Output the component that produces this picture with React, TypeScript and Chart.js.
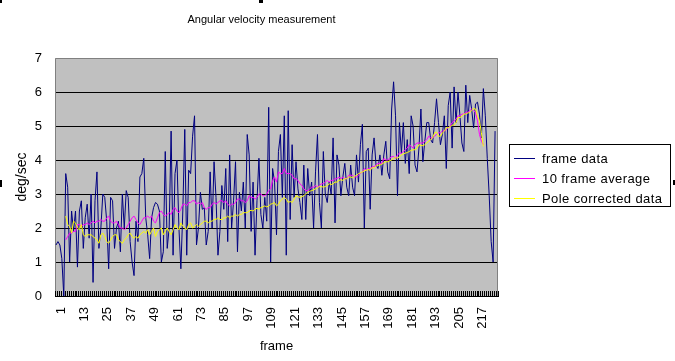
import React, { useEffect, useRef } from "react";
import { Chart, registerables } from "chart.js";

Chart.register(...registerables);

const TITLE = "Angular velocity measurement";
const X_TITLE = "frame";
const Y_TITLE = "deg/sec";
const FRAME_COUNT = 227;
const FRAMES = Array.from({ length: FRAME_COUNT }, (_, i) => String(i + 1));
const X_TICK_LABELS = ["1", "13", "25", "37", "49", "61", "73", "85", "97", "109", "121", "133", "145", "157", "169", "181", "193", "205", "217"];
const Y_MIN = 0;
const Y_MAX = 7;
const Y_STEP = 1;
const SERIES_NAMES = ["frame data", "10 frame average", "Pole corrected data"];
const SERIES_COLORS = ["#000080", "#ff00ff", "#ffff00"];

const FRAME_DATA = [
  1.5, 1.6, 1.5, 1.1, 0.0, 3.6, 3.2, 1.0, 2.5, 1.9,
  2.5, 0.85, 2.5, 2.8, 1.4, 2.3, 2.7, 1.7, 3.0, 0.4,
  2.8, 3.65, 1.4, 2.0, 3.0, 2.9, 2.2, 0.8, 2.9, 2.8,
  1.4, 2.0, 2.2, 1.3, 3.0, 2.0, 3.1, 2.9, 1.6, 1.0,
  0.6, 2.2, 1.6, 3.5, 3.6, 4.05, 2.3, 1.8, 1.1, 2.3,
  2.6, 2.75, 2.7, 2.5, 1.0, 1.3, 4.25, 1.4, 2.0, 4.85,
  1.2, 3.6, 4.0, 2.0, 0.8, 2.5, 4.9, 1.2, 3.7, 3.6,
  4.7, 5.3, 1.5, 2.0, 3.05, 2.55, 2.6, 1.5, 1.9, 3.65,
  2.0, 3.95, 2.9, 1.2, 1.9, 3.25, 2.55, 3.75, 1.6, 4.15,
  2.0, 2.8, 3.95, 1.3, 3.05, 2.5, 3.35, 2.0, 4.75, 4.15,
  1.9, 3.35, 1.2, 2.8, 4.05, 2.4, 2.0, 2.9, 2.2, 5.55,
  1.0, 3.75, 3.35, 1.8, 4.25, 4.75, 2.9, 5.3, 1.2, 5.45,
  2.25, 4.45, 2.9, 3.95, 3.15, 2.75, 2.25, 3.85, 2.25, 3.75,
  2.95, 3.35, 2.0, 3.65, 4.75, 2.75, 2.0, 4.25, 3.0, 2.75,
  3.35, 3.0, 4.65, 2.15, 4.15, 3.85, 2.95, 3.5, 3.9, 3.2,
  2.95, 3.85, 3.2, 2.95, 4.15, 3.35, 4.45, 5.05, 2.0, 4.25,
  4.35, 2.55, 4.15, 4.65, 3.85, 3.75, 4.15, 3.55, 4.15, 4.55,
  3.65, 3.45, 5.5, 6.3, 5.3, 2.95, 5.1, 4.2, 5.1, 3.9,
  4.6, 3.6, 5.3, 5.0, 3.85, 3.65, 4.35, 5.5, 3.95, 4.55,
  5.1, 5.1, 4.6, 4.5, 5.1, 5.8, 5.1, 4.45, 4.75, 5.3,
  3.75, 5.6, 6.0, 4.35, 6.15, 5.1, 6.0, 5.3, 4.5, 4.25,
  6.2, 5.1, 5.9, 5.5, 4.95, 5.65, 5.7, 5.35, 4.65, 6.1,
  5.3, 4.05, 2.95, 1.6, 1.0, 4.85,
];

const AVERAGE_START_FRAME = 6;

const TEN_FRAME_AVERAGE = [
  1.65, 1.75, 1.85, 1.85, 1.9, 1.9, 2.1, 2.1, 2.05, 2.1,
  2.1, 2.15, 2.1, 2.15, 2.2, 2.15, 2.2, 2.2, 2.25, 2.2,
  2.2, 2.3, 2.35, 2.2, 2.15, 2.15, 2.2, 2.1, 2.0, 2.0,
  1.95, 2.0, 2.1, 2.2, 2.3, 2.35, 2.25, 2.15, 2.1, 2.2,
  2.3, 2.3, 2.35, 2.3, 2.35, 2.2, 2.15, 2.3, 2.45, 2.5,
  2.4, 2.35, 2.4, 2.45, 2.4, 2.55, 2.6, 2.5, 2.45, 2.55,
  2.7, 2.7, 2.65, 2.75, 2.75, 2.8, 2.8, 2.7, 2.75, 2.7,
  2.75, 2.6, 2.55, 2.6, 2.6, 2.7, 2.75, 2.7, 2.75, 2.8,
  2.8, 2.75, 2.8, 2.7, 2.65, 2.7, 2.7, 2.75, 2.85, 2.85,
  2.8, 2.8, 2.75, 2.8, 2.95, 2.9, 2.9, 2.85, 2.9, 3.0,
  3.0, 2.95, 2.95, 3.0, 3.1, 3.15, 3.4, 3.5, 3.35, 3.65,
  3.6, 3.6, 3.75, 3.6, 3.6, 3.6, 3.55, 3.45, 3.45, 3.4,
  3.3, 3.25, 3.15, 3.1, 3.1, 3.15, 3.2, 3.2, 3.25, 3.2,
  3.25, 3.3, 3.3, 3.35, 3.4, 3.35, 3.4, 3.4, 3.45, 3.45,
  3.5, 3.45, 3.5, 3.45, 3.45, 3.55, 3.55, 3.55, 3.5, 3.5,
  3.55, 3.6, 3.65, 3.75, 3.7, 3.75, 3.75, 3.8, 3.8, 3.85,
  3.9, 3.9, 3.9, 4.05, 4.0, 4.0, 4.05, 4.1, 4.1, 4.05,
  4.15, 4.2, 4.2, 4.25, 4.3, 4.35, 4.45, 4.4, 4.35, 4.45,
  4.5, 4.5, 4.5, 4.5, 4.55, 4.6, 4.7, 4.65, 4.65, 4.7,
  4.75, 4.8, 4.8, 4.85, 4.85, 4.9, 4.95, 5.0, 5.1, 5.15,
  5.2, 5.3, 5.3, 5.35, 5.35, 5.4, 5.4, 5.45, 5.5, 5.45,
  5.4, 5.15, 4.75, 4.55, 4.45,
];

const POLE_CORRECTED = [
  2.35, 2.1, 2.05, 1.85, 2.2, 2.15, 2.0, 1.95, 2.1, 1.8,
  1.75, 1.8, 1.8, 1.8, 1.75, 1.7, 1.65, 1.55, 1.8, 1.85,
  1.75, 1.6, 1.55, 1.65, 1.75, 1.8, 1.8, 1.65, 1.6, 1.55,
  1.65, 1.7, 1.8, 1.85, 1.75, 1.7, 1.75, 1.7, 1.8, 1.85,
  1.9, 1.85, 1.95, 1.8, 1.9, 2.0, 1.75, 1.9, 1.95, 2.0,
  1.8, 1.9, 2.0, 1.9, 1.8, 1.95, 2.1, 2.0, 1.95, 2.15,
  2.05, 2.0, 1.95, 2.1, 2.15, 2.0, 2.05, 2.1, 2.05, 2.1,
  2.15, 2.2, 2.2, 2.15, 2.2, 2.2, 2.25, 2.25, 2.3, 2.25,
  2.25, 2.3, 2.3, 2.35, 2.3, 2.35, 2.35, 2.4, 2.35, 2.4,
  2.4, 2.45, 2.45, 2.45, 2.5, 2.52, 2.5, 2.55, 2.58, 2.55,
  2.6, 2.62, 2.65, 2.62, 2.65, 2.7, 2.72, 2.75, 2.65, 2.7,
  2.8, 2.85, 2.9, 2.85, 2.75, 2.78, 2.75, 2.85, 2.95, 2.92,
  2.9, 2.92, 2.95, 3.0, 3.05, 3.08, 3.1, 3.12, 3.15, 3.18,
  3.22, 3.22, 3.2, 3.22, 3.25, 3.3, 3.28, 3.3, 3.35, 3.35,
  3.4, 3.42, 3.4, 3.45, 3.45, 3.5, 3.5, 3.48, 3.52, 3.55,
  3.6, 3.62, 3.65, 3.68, 3.7, 3.72, 3.7, 3.78, 3.76, 3.82,
  3.85, 3.85, 3.88, 3.92, 3.95, 3.95, 3.98, 4.0, 4.05, 4.07,
  4.05, 4.1, 4.15, 4.18, 4.2, 4.22, 4.25, 4.28, 4.3, 4.3,
  4.35, 4.45, 4.43, 4.42, 4.45, 4.5, 4.55, 4.6, 4.65, 4.8,
  4.82, 4.7, 4.7, 4.8, 4.85, 4.95, 4.95, 4.98, 5.02, 5.03,
  5.1, 5.25, 5.25, 5.28, 5.35, 5.35, 5.38, 5.4, 5.45, 5.52,
  5.5, 5.3, 5.15, 4.8, 4.4,
];

const FONT = "'Liberation Sans', Arial, sans-serif";

function alignToFrames(startFrame: number, values: number[]) {
  return FRAMES.map((_, i) => {
    const k = i - (startFrame - 1);
    return k >= 0 && k < values.length ? values[k] : null;
  });
}

const excelPlotPlugin = {
  id: "excelPlot",
  beforeDraw(chart: any) {
    const { ctx, chartArea: a } = chart;
    ctx.save();
    ctx.fillStyle = "#c0c0c0";
    ctx.fillRect(a.left, a.top, a.right - a.left, a.bottom - a.top);
    ctx.restore();
  },
  beforeDatasetsDraw(chart: any) {
    const { ctx, chartArea: a, scales } = chart;
    ctx.save();
    ctx.strokeStyle = "#808080";
    ctx.lineWidth = 1;
    ctx.beginPath();
    ctx.moveTo(a.left + 0.5, a.bottom);
    ctx.lineTo(a.left + 0.5, a.top + 0.5);
    ctx.lineTo(a.right - 0.5, a.top + 0.5);
    ctx.lineTo(a.right - 0.5, a.bottom);
    ctx.stroke();
    // category tick comb along the bottom
    const xs = scales.x;
    ctx.strokeStyle = "#000000";
    ctx.beginPath();
    for (let i = 0; i <= FRAME_COUNT; i++) {
      const px = Math.round(xs.getPixelForValue(i - 0.5)) + 0.5;
      ctx.moveTo(px, a.bottom - 5);
      ctx.lineTo(px, a.bottom);
    }
    ctx.stroke();
    ctx.restore();
  },
  afterDraw(chart: any) {
    const { ctx } = chart;
    ctx.save();
    // title
    ctx.fillStyle = "#000";
    ctx.font = `11px ${FONT}`;
    ctx.textAlign = "center";
    ctx.textBaseline = "alphabetic";
    ctx.fillText(TITLE, 261.5, 23);
    // legend
    ctx.fillStyle = "#fff";
    ctx.fillRect(509.5, 144.5, 161, 62);
    ctx.strokeStyle = "#000";
    ctx.lineWidth = 1;
    ctx.strokeRect(509.5, 144.5, 161, 62);
    ctx.font = `13px ${FONT}`;
    ctx.textAlign = "left";
    try { (ctx as any).letterSpacing = "0.4px"; } catch (e) {}
    SERIES_NAMES.forEach((name, i) => {
      const y = 158.5 + i * 20;
      ctx.strokeStyle = SERIES_COLORS[i];
      ctx.beginPath();
      ctx.moveTo(514, y);
      ctx.lineTo(535, y);
      ctx.stroke();
      ctx.fillStyle = "#000";
      ctx.fillText(name, 542, 163 + i * 20);
    });
    try { (ctx as any).letterSpacing = "0px"; } catch (e) {}
    // selection handles
    ctx.fillStyle = "#000";
    ctx.fillRect(0, 0, 2, 3);
    ctx.fillRect(259, 0, 4, 3);
    ctx.fillRect(0, 180, 2, 7);
    ctx.fillRect(673, 180, 2, 5);
    ctx.restore();
  },
};

export default function App() {
  const canvasRef = useRef<HTMLCanvasElement>(null);

  useEffect(() => {
    const canvas = canvasRef.current;
    if (!canvas) return;
    const chart = new Chart(canvas, {
      type: "line",
      data: {
        labels: FRAMES,
        datasets: [
          {
            label: SERIES_NAMES[0],
            data: FRAME_DATA,
            borderColor: SERIES_COLORS[0],
            backgroundColor: SERIES_COLORS[0],
            borderWidth: 1,
            pointRadius: 0,
            order: 3,
          },
          {
            label: SERIES_NAMES[1],
            data: alignToFrames(AVERAGE_START_FRAME, TEN_FRAME_AVERAGE),
            borderColor: SERIES_COLORS[1],
            backgroundColor: SERIES_COLORS[1],
            borderWidth: 1,
            pointRadius: 0,
            order: 2,
          },
          {
            label: SERIES_NAMES[2],
            data: alignToFrames(AVERAGE_START_FRAME, POLE_CORRECTED),
            borderColor: SERIES_COLORS[2],
            backgroundColor: SERIES_COLORS[2],
            borderWidth: 1,
            pointRadius: 0,
            order: 1,
          },
        ],
      },
      options: {
        responsive: false,
        animation: false,
        events: [],
        layout: { padding: { top: 58, right: 177, bottom: 0, left: 0 } },
        plugins: {
          legend: { display: false },
          title: { display: false },
          tooltip: { enabled: false },
        },
        elements: { line: { tension: 0 }, point: { radius: 0 } },
        scales: {
          x: {
            type: "category",
            offset: true,
            grid: { display: false, drawTicks: false },
            border: { display: true, color: "#000", width: 1 },
            ticks: {
              autoSkip: false,
              maxRotation: 90,
              minRotation: 90,
              padding: 11,
              labelOffset: 5,
              color: "#000",
              font: { family: FONT, size: 13 },
              callback: (_v: any, index: number) =>
                X_TICK_LABELS.includes(FRAMES[index]) ? FRAMES[index] : "",
            },
            title: {
              display: true,
              text: X_TITLE,
              color: "#000",
              font: { family: FONT, size: 13 },
              padding: { top: 0, bottom: 7 },
            },
            afterFit: (s: any) => {
              s.height = 65;
            },
          },
          y: {
            min: Y_MIN,
            max: Y_MAX,
            ticks: {
              stepSize: Y_STEP,
              padding: 13,
              color: "#000",
              font: { family: FONT, size: 13 },
            },
            grid: {
              drawTicks: false,
              lineWidth: 1,
              color: (c: any) => (c.tick && c.tick.value === Y_MAX ? "rgba(0,0,0,0)" : "#000000"),
            },
            border: { display: false },
            title: {
              display: true,
              text: Y_TITLE,
              color: "#000",
              font: { family: FONT, size: 14 },
              padding: { top: 14, bottom: 0 },
            },
            afterFit: (s: any) => {
              s.width = 55;
            },
          },
        },
      } as any,
      plugins: [excelPlotPlugin],
    });
    return () => chart.destroy();
  }, []);

  return (
    <div style={{ position: "absolute", left: 0, top: 0, width: 675, height: 361, background: "#fff" }}>
      <canvas ref={canvasRef} width={675} height={361} style={{ display: "block" }} />
    </div>
  );
}
